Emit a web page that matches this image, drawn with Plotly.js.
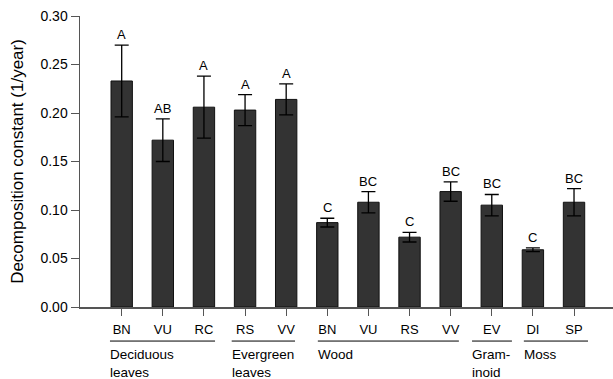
<!DOCTYPE html>
<html>
<head>
<meta charset="utf-8">
<script src="https://cdn.plot.ly/plotly-3.0.1.min.js"></script>
<style>html,body{margin:0;padding:0;background:#fff;}#chart{width:613px;height:379px;}</style>
</head>
<body>
<div id="chart"></div>
<script>
// Data
const categories = ["BN", "VU", "RC", "RS", "VV", "BN", "VU", "RS", "VV", "EV", "DI", "SP"];
const values = [0.233, 0.172, 0.206, 0.203, 0.214, 0.087, 0.108, 0.072, 0.119, 0.105, 0.059, 0.108];
const errors = [0.037, 0.022, 0.032, 0.016, 0.016, 0.0045, 0.011, 0.005, 0.010, 0.011, 0.002, 0.014];
const letters = ["A", "AB", "A", "A", "A", "C", "BC", "C", "BC", "BC", "C", "BC"];
const groupNames = ["Deciduous<br>leaves", "Evergreen<br>leaves", "Wood", "Gram-<br>inoid", "Moss"];
const groupStart = [0, 3, 5, 9, 10];
const groupEnd = [2, 4, 8, 9, 11];

// Layout styling (decoration offsets around groups, in category units)
const padLeft = [0.285, 0.325, 0.23, 0.48, 0.22];
const padRight = [0.27, 0.215, 0.2, 0.49, 0.34];

const xs = categories.map((_, i) => i);
const font = "Liberation Sans, Arial, sans-serif";
const axisColor = "#555555";

const trace = {
  type: "bar",
  x: xs,
  y: values,
  width: 0.52,
  marker: { color: "#333333", line: { color: "#111111", width: 1 } },
  error_y: { type: "data", array: errors, visible: true, color: "#000000", thickness: 1.3, width: 7 },
  hoverinfo: "none"
};

const annotations = letters.map((t, i) => ({
  x: i, y: values[i] + errors[i], xref: "x", yref: "y",
  text: t, showarrow: false, yanchor: "bottom", yshift: 1,
  font: { family: font, size: 13, color: "#000" }
}));

const shapes = [];
groupNames.forEach((g, k) => {
  const x0 = groupStart[k] - padLeft[k];
  const x1 = groupEnd[k] + padRight[k];
  shapes.push({ type: "line", xref: "x", yref: "paper", x0: x0, x1: x1, y0: -0.117, y1: -0.117,
    line: { color: "#000", width: 1 } });
  annotations.push({ x: x0, y: -0.132, xref: "x", yref: "paper", text: g, showarrow: false,
    xanchor: "left", yanchor: "top", align: "left", xshift: -2,
    font: { family: font, size: 13.5, color: "#000" } });
});

const layout = {
  width: 613, height: 379,
  margin: { l: 80, r: 0, t: 16, b: 71.5 },
  paper_bgcolor: "#fff", plot_bgcolor: "#fff",
  showlegend: false,
  xaxis: {
    range: [-1.014, 11.948],
    tickmode: "array", tickvals: xs, ticktext: categories,
    ticks: "outside", ticklen: 7, tickcolor: axisColor, tickwidth: 1,
    showline: true, linecolor: axisColor, linewidth: 1.5,
    showgrid: false, zeroline: false, ticklabelstandoff: 3,
    tickfont: { family: font, size: 13, color: "#000" }
  },
  yaxis: {
    range: [0, 0.30],
    tickvals: [0, 0.05, 0.10, 0.15, 0.20, 0.25, 0.30],
    tickformat: ".2f",
    ticks: "outside", ticklen: 8, tickcolor: axisColor, tickwidth: 1,
    showline: true, linecolor: axisColor, linewidth: 1.5,
    showgrid: false, zeroline: false,
    tickfont: { family: font, size: 14, color: "#000" },
    title: { text: "Decomposition constant (1/year)", font: { family: font, size: 17, color: "#000" }, standoff: 12 }
  },
  annotations: annotations,
  shapes: shapes
};

Plotly.newPlot("chart", [trace], layout, { staticPlot: true, displayModeBar: false });
</script>
</body>
</html>
